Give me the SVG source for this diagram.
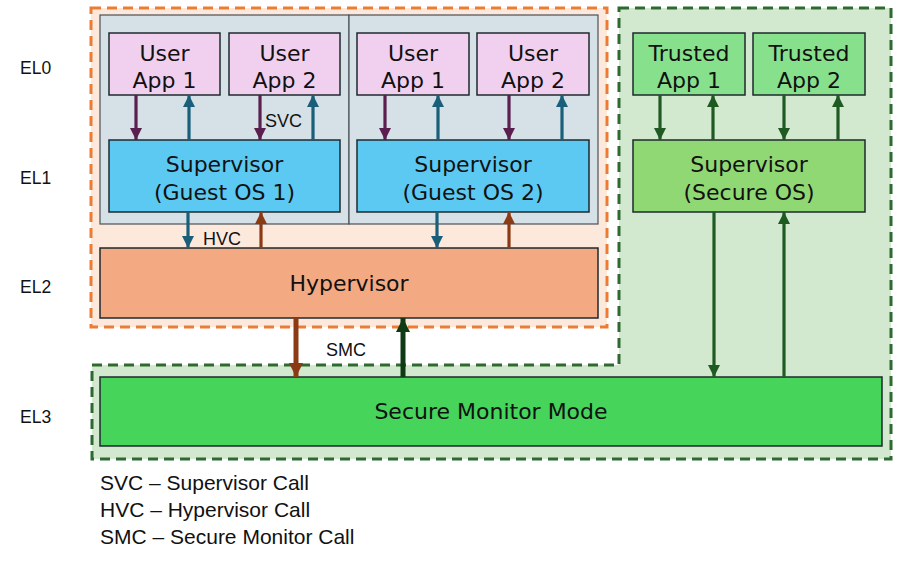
<svg xmlns="http://www.w3.org/2000/svg" width="899" height="561" viewBox="0 0 899 561">
<defs>
<style>
.box{stroke:#1e2a2e;stroke-width:1.5}
.t{font-family:"DejaVu Sans",Verdana,sans-serif;font-size:22px;fill:#111;text-anchor:middle}
.lbl{font-family:"Liberation Sans",Arial,sans-serif;font-size:18px;fill:#111}
.el{font-family:"Liberation Sans",Arial,sans-serif;font-size:17.5px;fill:#111}
.leg{font-family:"Liberation Sans",Arial,sans-serif;font-size:21px;fill:#111}
.a{stroke-width:3.2;fill:none}
.pu{stroke:#5a1f4e}.te{stroke:#1a5f7a}.br{stroke:#8a3b14}.gr{stroke:#1f5a22}.dg{stroke:#0e3b13}
</style>
<marker id="mpu" markerUnits="userSpaceOnUse" markerWidth="12" markerHeight="12" refX="12" refY="6" orient="auto"><path d="M0,0 L12,6 L0,12 z" fill="#5a1f4e"/></marker>
<marker id="mte" markerUnits="userSpaceOnUse" markerWidth="12" markerHeight="12" refX="12" refY="6" orient="auto"><path d="M0,0 L12,6 L0,12 z" fill="#1a5f7a"/></marker>
<marker id="mbr" markerUnits="userSpaceOnUse" markerWidth="12" markerHeight="12" refX="12" refY="6" orient="auto"><path d="M0,0 L12,6 L0,12 z" fill="#8a3b14"/></marker>
<marker id="mgr" markerUnits="userSpaceOnUse" markerWidth="12" markerHeight="12" refX="12" refY="6" orient="auto"><path d="M0,0 L12,6 L0,12 z" fill="#1f5a22"/></marker>
<marker id="mbrL" markerUnits="userSpaceOnUse" markerWidth="14" markerHeight="14" refX="14" refY="7" orient="auto"><path d="M0,0 L14,7 L0,14 z" fill="#8a3b14"/></marker>
<marker id="mdgL" markerUnits="userSpaceOnUse" markerWidth="14" markerHeight="14" refX="14" refY="7" orient="auto"><path d="M0,0 L14,7 L0,14 z" fill="#0e3b13"/></marker>
</defs>
<rect width="899" height="561" fill="#ffffff"/>

<g id="secure-world">
<path d="M619,8 H891 V459 H92 V365 H619 Z" fill="#d3e9cf" stroke="#2e6a30" stroke-width="3" stroke-dasharray="10,6"/>
</g>
<g id="normal-world">
<rect x="91" y="8" width="516" height="319" fill="#fde8dc" stroke="#ec7c34" stroke-width="3" stroke-dasharray="10,6"/>
</g>

<g id="vm1"><rect x="100" y="15" width="249" height="209" fill="#d5e1e6" stroke="#4a5256" stroke-width="1.2"/></g>
<g id="vm2"><rect x="349" y="15" width="249" height="209" fill="#d5e1e6" stroke="#4a5256" stroke-width="1.2"/></g>

<g id="vm1-app1"><rect class="box" x="109" y="33" width="111" height="62" fill="#f1d0ef"/><text class="t" x="164.5" y="61">User</text><text class="t" x="164.5" y="88">App 1</text></g>
<g id="vm1-app2"><rect class="box" x="229" y="33" width="111" height="62" fill="#f1d0ef"/><text class="t" x="284.5" y="61">User</text><text class="t" x="284.5" y="88">App 2</text></g>
<g id="vm1-os"><rect class="box" x="109" y="140" width="231" height="72" fill="#5cc9f2"/><text class="t" x="224.5" y="172">Supervisor</text><text class="t" x="224.5" y="200">(Guest OS 1)</text></g>

<g id="vm2-app1"><rect class="box" x="357" y="33" width="112" height="62" fill="#f1d0ef"/><text class="t" x="413" y="61">User</text><text class="t" x="413" y="88">App 1</text></g>
<g id="vm2-app2"><rect class="box" x="477" y="33" width="112" height="62" fill="#f1d0ef"/><text class="t" x="533" y="61">User</text><text class="t" x="533" y="88">App 2</text></g>
<g id="vm2-os"><rect class="box" x="357" y="140" width="232" height="72" fill="#5cc9f2"/><text class="t" x="473" y="172">Supervisor</text><text class="t" x="473" y="200">(Guest OS 2)</text></g>

<g id="hypervisor"><rect class="box" x="100" y="248" width="498" height="70" fill="#f3a982"/><text class="t" x="349" y="291">Hypervisor</text></g>

<g id="trusted-app1"><rect class="box" x="633" y="33" width="112" height="62" fill="#87e08c"/><text class="t" x="689" y="61">Trusted</text><text class="t" x="689" y="88">App 1</text></g>
<g id="trusted-app2"><rect class="box" x="753" y="33" width="112" height="62" fill="#87e08c"/><text class="t" x="809" y="61">Trusted</text><text class="t" x="809" y="88">App 2</text></g>
<g id="secure-os"><rect class="box" x="633" y="140" width="232" height="72" fill="#90d873"/><text class="t" x="749" y="172">Supervisor</text><text class="t" x="749" y="200">(Secure OS)</text></g>

<g id="secure-monitor"><rect class="box" x="100" y="377" width="782" height="69" fill="#46d45b"/><text class="t" x="491" y="419">Secure Monitor Mode</text></g>

<g id="connectors">
<line class="a pu" x1="136" y1="95" x2="136" y2="140" marker-end="url(#mpu)"/>
<line class="a te" x1="189" y1="140" x2="189" y2="95" marker-end="url(#mte)"/>
<line class="a pu" x1="260" y1="95" x2="260" y2="140" marker-end="url(#mpu)"/>
<line class="a te" x1="313" y1="140" x2="313" y2="95" marker-end="url(#mte)"/>
<line class="a pu" x1="385" y1="95" x2="385" y2="140" marker-end="url(#mpu)"/>
<line class="a te" x1="438" y1="140" x2="438" y2="95" marker-end="url(#mte)"/>
<line class="a pu" x1="509" y1="95" x2="509" y2="140" marker-end="url(#mpu)"/>
<line class="a te" x1="562" y1="140" x2="562" y2="95" marker-end="url(#mte)"/>

<line class="a te" x1="188" y1="212" x2="188" y2="248" marker-end="url(#mte)"/>
<line class="a br" x1="261" y1="248" x2="261" y2="212" marker-end="url(#mbr)"/>
<line class="a te" x1="437" y1="212" x2="437" y2="248" marker-end="url(#mte)"/>
<line class="a br" x1="509" y1="248" x2="509" y2="212" marker-end="url(#mbr)"/>

<line class="a gr" x1="660" y1="95" x2="660" y2="140" marker-end="url(#mgr)"/>
<line class="a gr" x1="713" y1="140" x2="713" y2="95" marker-end="url(#mgr)"/>
<line class="a gr" x1="784" y1="95" x2="784" y2="140" marker-end="url(#mgr)"/>
<line class="a gr" x1="838" y1="140" x2="838" y2="95" marker-end="url(#mgr)"/>
<line class="a gr" x1="714" y1="212" x2="714" y2="377" marker-end="url(#mgr)"/>
<line class="a gr" x1="784" y1="377" x2="784" y2="212" marker-end="url(#mgr)"/>

<line class="br" stroke-width="5" x1="296" y1="318" x2="296" y2="377" marker-end="url(#mbrL)"/>
<line class="dg" stroke-width="5" x1="403" y1="377" x2="403" y2="318" marker-end="url(#mdgL)"/>
</g>

<g id="labels">
<text class="lbl" x="265" y="127">SVC</text>
<text class="lbl" x="203" y="245">HVC</text>
<text class="lbl" x="326" y="356">SMC</text>
<text class="el" x="20" y="74">EL0</text>
<text class="el" x="20" y="184">EL1</text>
<text class="el" x="20" y="293">EL2</text>
<text class="el" x="20" y="423">EL3</text>
<text class="leg" x="100" y="490">SVC – Supervisor Call</text>
<text class="leg" x="100" y="517">HVC – Hypervisor Call</text>
<text class="leg" x="100" y="544">SMC – Secure Monitor Call</text>
</g>
</svg>
